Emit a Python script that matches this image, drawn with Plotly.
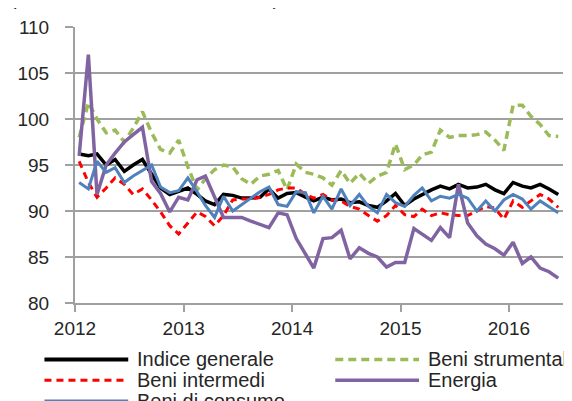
import plotly.graph_objects as go

# ---- data (monthly, Jan 2012 - Jun 2016) ----
months = [f"{y}-{m:02d}-15" for y in range(2012, 2017) for m in range(1, 13)][:54]

indice_generale = [
    96.2, 96.0, 96.2, 95.0, 95.6, 94.3, 95.0, 95.6, 94.0, 92.5, 91.8, 92.1,
    92.5, 91.8, 91.1, 90.7, 91.8, 91.7, 91.4, 91.4, 91.5, 92.4, 91.4, 91.9,
    92.0, 91.5, 91.1, 91.5, 91.2, 91.3, 90.9, 91.0, 90.6, 90.4, 91.1, 91.9,
    90.6, 91.3, 91.8, 92.3, 92.7, 92.4, 92.9, 92.5, 92.6, 92.9, 92.3, 91.9,
    93.1, 92.7, 92.5, 92.9, 92.4, 91.8]

beni_strumentali = [
    98.0, 101.8, 100.0, 98.5, 98.8, 97.5, 99.0, 100.8, 98.5, 96.7, 96.3, 97.7,
    94.8, 92.3, 93.5, 94.5, 95.0, 94.8, 93.5, 92.9, 93.8, 94.0, 94.4, 92.3,
    95.1, 94.2, 94.0, 93.6, 92.8, 94.4, 93.0, 94.1, 93.0, 93.8, 94.2, 97.3,
    94.5, 95.0, 96.1, 96.4, 98.8, 98.0, 98.2, 98.2, 98.3, 98.6, 97.7, 96.6,
    101.5, 101.5, 100.3, 99.4, 98.2, 98.1]

beni_intermedi = [
    95.4, 93.1, 91.5, 92.5, 93.6, 92.9, 91.8, 92.4, 91.2, 89.9, 88.4, 87.5,
    88.7, 89.9, 89.4, 88.4, 89.5, 91.2, 91.3, 91.3, 91.5, 91.8, 92.3, 92.5,
    92.5, 91.8, 91.4, 91.8, 91.2, 91.1, 90.5, 90.2, 89.5, 88.9, 89.5, 90.6,
    89.6, 89.4, 90.2, 89.5, 89.8, 89.6, 89.5, 89.5, 90.0, 90.5, 90.3, 89.1,
    91.1, 90.4, 91.1, 91.8, 91.3, 90.4]

energia = [
    96.0, 107.0, 91.8, 95.0, 96.3, 97.5, 98.3, 99.1, 93.2, 91.9, 89.9, 91.5,
    91.2, 93.4, 93.8, 91.5, 89.3, 89.3, 89.3, 88.9, 88.5, 88.2, 89.8, 89.6,
    87.0, 85.3, 83.8, 87.0, 87.1, 87.9, 84.8, 86.0, 85.4, 85.0, 83.9, 84.4,
    84.4, 88.1, 87.5, 86.8, 88.2, 87.1, 92.9, 88.7, 87.3, 86.4, 85.9, 85.2,
    86.6, 84.3, 85.0, 83.8, 83.4, 82.7]

beni_consumo = [
    93.1, 92.4, 95.4, 94.2, 94.7, 93.1, 93.8, 94.4, 95.0, 92.6, 92.0, 92.2,
    93.6, 92.1, 90.6, 89.3, 91.6, 90.0, 90.7, 91.4, 92.1, 92.6, 90.7, 90.5,
    92.1, 92.0, 89.8, 91.6, 90.2, 92.4, 90.6, 91.8, 90.5, 89.8, 91.8, 90.9,
    90.5, 91.7, 92.5, 91.1, 91.6, 91.4, 91.8, 91.4, 90.0, 91.1, 90.0, 91.2,
    91.8, 91.3, 90.2, 91.1, 90.5, 89.8]

year_ticks = ["2012-01-01", "2013-01-01", "2014-01-01", "2015-01-01", "2016-01-01"]
year_labels = ["2012", "2013", "2014", "2015", "2016"]

series = [
    ("Indice generale", indice_generale, "#000000", "solid", 3.5),
    ("Beni strumentali", beni_strumentali, "#9BBB59", "8px,5px", 3.5),
    ("Beni intermedi", beni_intermedi, "#FF0000", "7px,5px", 3),
    ("Energia", energia, "#8064A2", "solid", 3.5),
    ("Beni di consumo", beni_consumo, "#4F81BD", "solid", 3),
]

FONT = "Liberation Sans, Arial, sans-serif"
TXT = "#262626"
GRID = "#a0a0a0"

fig = go.Figure()
for name, vals, col, dash, w in series:
    fig.add_trace(go.Scatter(x=months, y=vals, mode="lines", name=name,
                             line=dict(color=col, width=w, dash=dash),
                             showlegend=False))

# page has an 8px body margin; figure sized to fit the 572x401 window
OFF = 8
W, H = 572 - OFF, 401 - OFF
ML, MR, MT, MB = 68 - OFF, 9, 24 - OFF, 401 - 303
PW, PH = W - ML - MR, H - MT - MB


def px(xp):  # page x -> paper
    return (xp - OFF - ML) / PW


def py(yp):  # page y -> paper
    return (H - MB - (yp - OFF)) / PH


# manual legend (Excel-like long samples)
legend_items = [
    ("Indice generale", "#000000", "solid", 4, 37, 122, 360),
    ("Beni strumentali", "#9BBB59", "8px,5px", 3.5, 332, 417, 360),
    ("Beni intermedi", "#FF0000", "7px,5px", 3, 37, 122, 381),
    ("Energia", "#8064A2", "solid", 3.5, 332, 417, 381),
    ("Beni di consumo", "#4F81BD", "solid", 3, 37, 122, 402),
]
for name, col, dash, w, x0, x1, yy in legend_items:
    fig.add_shape(type="line", xref="paper", yref="paper",
                  x0=px(x0), x1=px(x1), y0=py(yy), y1=py(yy),
                  line=dict(color=col, width=w, dash=dash))
    fig.add_annotation(xref="paper", yref="paper", x=px(x1 + 7), y=py(yy),
                       xanchor="left", yanchor="middle", showarrow=False,
                       text=name, font=dict(family=FONT, size=20, color=TXT))

# partially cut-off subtitle at the very top (only the bottom edge shows)
fig.add_annotation(xref="paper", yref="paper", x=px(0), y=py(8),
                   xanchor="left", yanchor="bottom", showarrow=False,
                   text="(indici mensili: base 2010=100)",
                   font=dict(family=FONT, size=19.5, color=TXT))

fig.update_layout(
    width=W, height=H, autosize=False,
    margin=dict(l=ML, r=MR, t=MT, b=MB, pad=0),
    paper_bgcolor="white", plot_bgcolor="white",
    font=dict(family=FONT, size=19, color=TXT),
    xaxis=dict(type="date", range=["2012-01-01", "2016-07-01"],
               tickmode="array", tickvals=year_ticks, ticktext=year_labels,
               showgrid=False, zeroline=False,
               showline=True, linecolor=GRID, linewidth=2,
               ticks="outside", ticklen=7, tickwidth=2, tickcolor=GRID,
               tickfont=dict(family=FONT, size=19, color=TXT)),
    yaxis=dict(range=[80, 110], tick0=80, dtick=5,
               showgrid=True, gridcolor=GRID, gridwidth=2, zeroline=False,
               showline=True, linecolor=GRID, linewidth=2,
               ticks="outside", ticklen=8, tickwidth=2, tickcolor=GRID,
               ticklabelstandoff=12,
               tickfont=dict(family=FONT, size=19, color=TXT)),
)

fig.write_html("out.html")
